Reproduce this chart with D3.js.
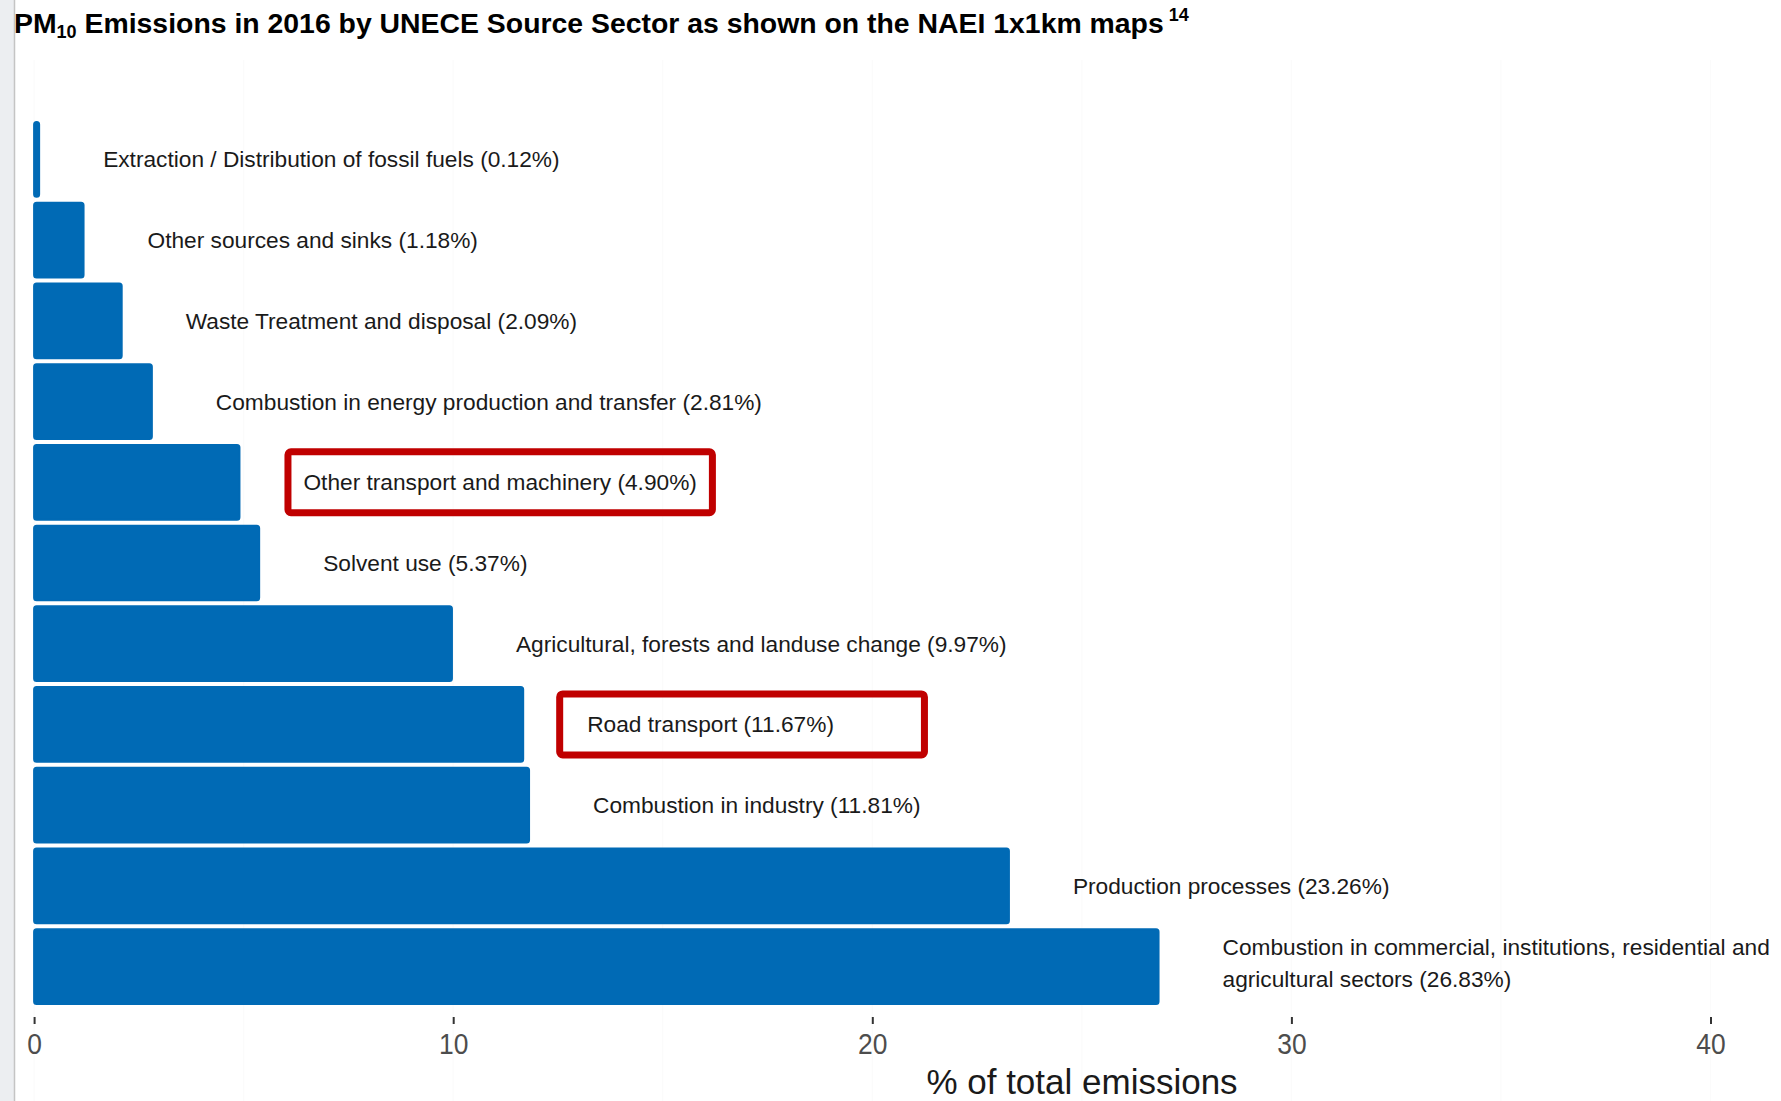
<!DOCTYPE html>
<html>
<head>
<meta charset="utf-8">
<script src="https://cdn.jsdelivr.net/npm/d3@7"></script>
<style>
  html, body { margin: 0; padding: 0; background: #fff; }
  svg { display: block; font-family: "Liberation Sans", Arial, sans-serif; }
</style>
</head>
<body>
<svg id="chart" width="1781" height="1101"></svg>
<script>
// PM10 emissions by UNECE source sector, share of total (%), smallest first
const sectors = [
  "Extraction / Distribution of fossil fuels",
  "Other sources and sinks",
  "Waste Treatment and disposal",
  "Combustion in energy production and transfer",
  "Other transport and machinery",
  "Solvent use",
  "Agricultural, forests and landuse change",
  "Road transport",
  "Combustion in industry",
  "Production processes",
  "Combustion in commercial, institutions, residential and agricultural sectors"
];
const shares = [0.12, 1.18, 2.09, 2.81, 4.90, 5.37, 9.97, 11.67, 11.81, 23.26, 26.83];
const xTicks = [0, 10, 20, 30, 40];

// sectors called out with a red frame (extra space left/right of the label)
const highlighted = ["Other transport and machinery", "Road transport"];
const framePadLeft = [19, 31];
const framePadRight = [19, 94];

const W = 1781, H = 1101;
const svg = d3.select("#chart");

// page edge on the left
svg.append("rect").attr("x", 0).attr("y", 0).attr("width", 14).attr("height", H).attr("fill", "#eceef1");
svg.append("line").attr("x1", 14.5).attr("x2", 14.5).attr("y1", 0).attr("y2", H)
  .attr("stroke", "#c4c4c4").attr("stroke-width", 1.5);

const x = d3.scaleLinear().domain([0, 40]).range([34.1, 1710.5]);
const y = d3.scaleBand().domain(sectors).range([119, 1007])
  .paddingInner(0.0743).paddingOuter(0.0372);

// faint panel grid
const grid = svg.append("g");
grid.selectAll("line").data(d3.range(0, 42.5, 5)).join("line")
  .attr("x1", d => x(d)).attr("x2", d => x(d))
  .attr("y1", 60).attr("y2", 1101)
  .attr("stroke", "#fbfbfb").attr("stroke-width", 1.2);

// bars
const barColor = "#006AB5";
svg.append("g").selectAll("rect").data(sectors).join("rect")
  .attr("x", x(0))
  .attr("y", d => y(d))
  .attr("width", (d, i) => x(shares[i]) - x(0))
  .attr("height", y.bandwidth())
  .attr("rx", 2.5)
  .attr("fill", barColor)
  .attr("stroke", barColor)
  .attr("stroke-width", 2)
  .attr("stroke-linejoin", "round");

// value labels to the right of each bar, wrapped when running past the page
const labelGap = 64, labelSize = 22.7, lineStep = 32, rightLimit = W - 4;
const labels = svg.append("g")
  .attr("font-size", labelSize).attr("fill", "#1a1a1a");

sectors.forEach((s, i) => {
  const lx = x(shares[i]) + labelGap;
  const cy = y(s) + y.bandwidth() / 2;
  const full = `${s} (${shares[i].toFixed(2)}%)`;
  const t = labels.append("text").attr("x", lx).attr("dominant-baseline", "central");
  // greedy word wrap
  const words = full.split(" ");
  const lines = [];
  let cur = [];
  const probe = t.append("tspan");
  words.forEach(w => {
    const trial = cur.concat(w).join(" ");
    probe.text(trial);
    if (cur.length && lx + probe.node().getComputedTextLength() > rightLimit) {
      lines.push(cur.join(" "));
      cur = [w];
    } else cur.push(w);
  });
  lines.push(cur.join(" "));
  probe.remove();
  const y0 = cy - (lines.length - 1) * lineStep / 2 - (lines.length > 1 ? 4 : 0);
  lines.forEach((ln, k) => {
    t.append("tspan").attr("x", lx).attr("y", y0 + k * lineStep).text(ln);
  });

  const h = highlighted.indexOf(s);
  if (h >= 0) {
    const len = t.node().getComputedTextLength();
    const sw = 7, boxH = 68;
    labels.append("rect")
      .attr("x", lx - framePadLeft[h] + sw / 2)
      .attr("y", cy - boxH / 2 + sw / 2)
      .attr("width", len + framePadLeft[h] + framePadRight[h] - sw)
      .attr("height", boxH - sw)
      .attr("rx", 3)
      .attr("fill", "none")
      .attr("stroke", "#C00000")
      .attr("stroke-width", sw);
  }
});

// x axis: short ticks and numbers, no domain line
const axis = svg.append("g").attr("transform", "translate(0,1017)")
  .call(d3.axisBottom(x).tickValues(xTicks).tickSize(7).tickFormat(d3.format("d")));
axis.select(".domain").remove();
axis.selectAll(".tick line").attr("stroke", "#333").attr("stroke-width", 2);
axis.selectAll(".tick text")
  .attr("font-family", null)
  .attr("font-size", 30)
  .attr("fill", "#4d4d4d")
  .attr("x", 0)
  .attr("y", 26)
  .attr("dy", "0")
  .attr("dominant-baseline", "central")
  .attr("transform", "scale(0.88,1)");

svg.append("text")
  .attr("x", 1082).attr("y", 1094)
  .attr("text-anchor", "middle")
  .attr("font-size", 35)
  .attr("fill", "#1a1a1a")
  .text("% of total emissions");

// title with PM10 subscript and footnote mark
const title = svg.append("text")
  .attr("x", 14).attr("y", 33)
  .attr("font-weight", "bold").attr("font-size", 28.4).attr("fill", "#000");
title.append("tspan").text("PM");
title.append("tspan").attr("font-size", 18).attr("dy", 5).text("10");
title.append("tspan").attr("dy", -5).text(" Emissions in 2016 by UNECE Source Sector as shown on the NAEI 1x1km maps");
title.append("tspan").attr("font-size", 18).attr("dy", -12).text(" 14");
</script>
</body>
</html>
